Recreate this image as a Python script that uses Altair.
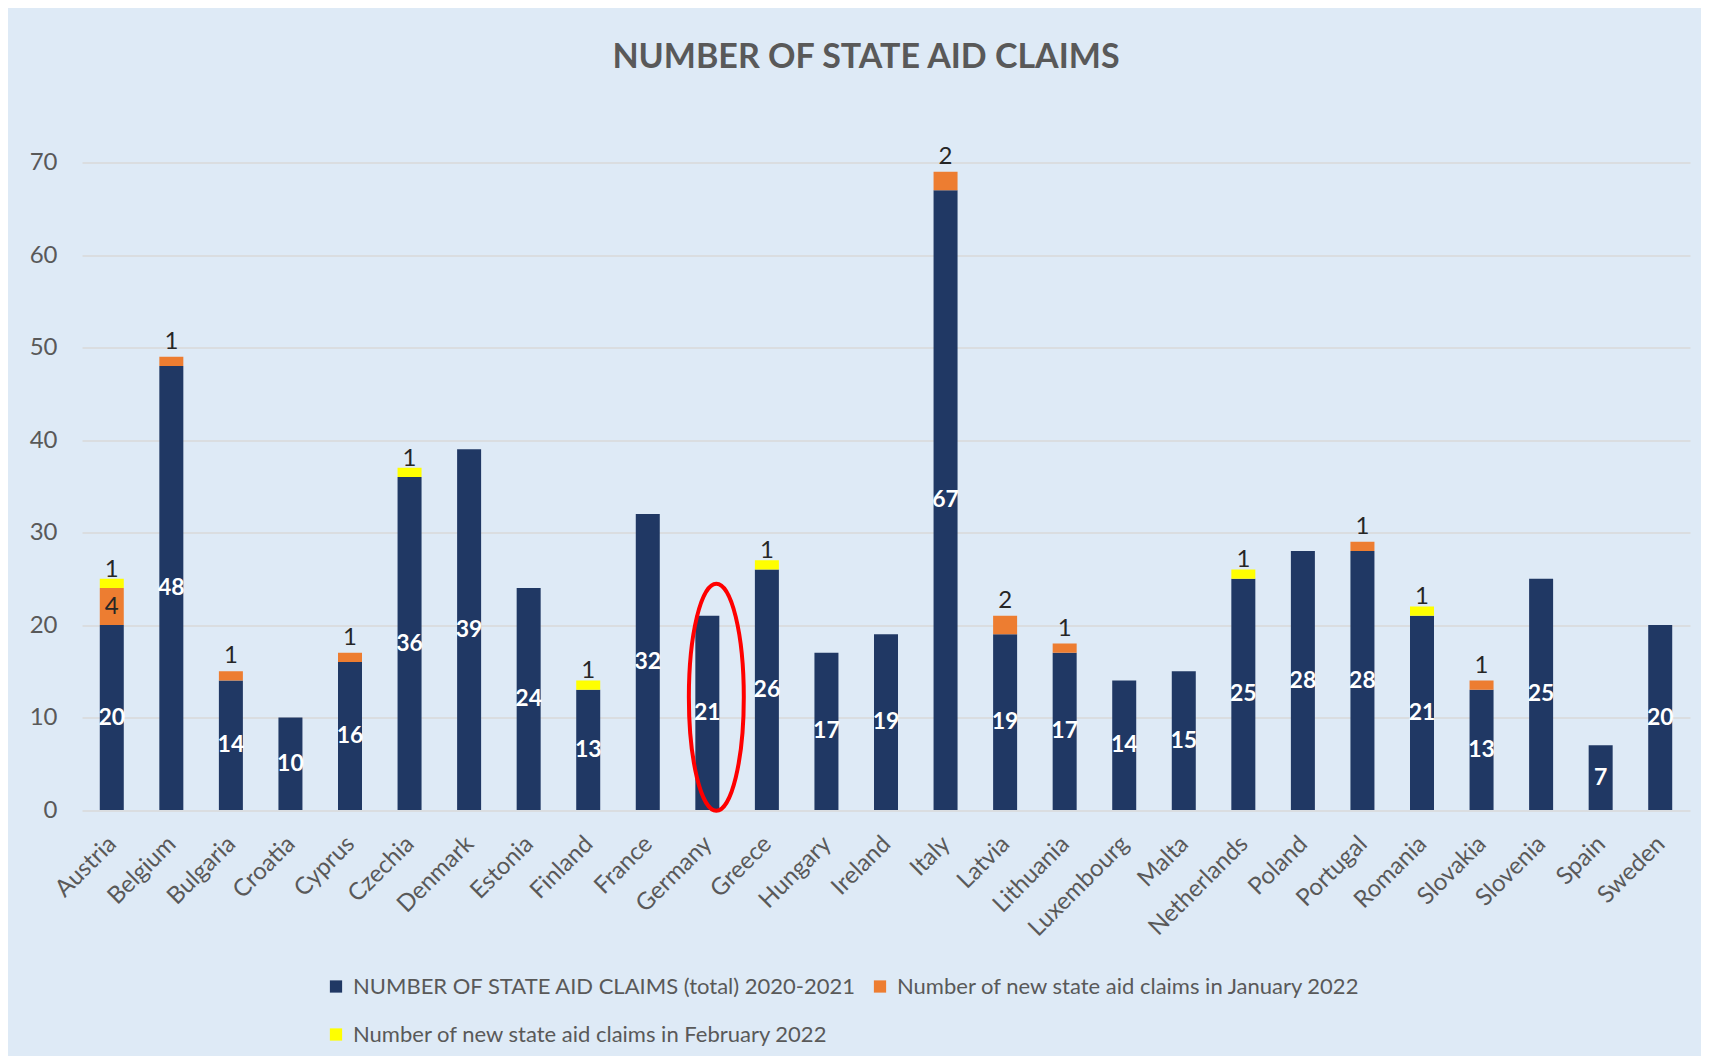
import altair as alt
import pandas as pd

countries = ["Austria", "Belgium", "Bulgaria", "Croatia", "Cyprus", "Czechia", "Denmark",
             "Estonia", "Finland", "France", "Germany", "Greece", "Hungary", "Ireland",
             "Italy", "Latvia", "Lithuania", "Luxembourg", "Malta", "Netherlands", "Poland",
             "Portugal", "Romania", "Slovakia", "Slovenia", "Spain", "Sweden"]
total_2020_2021 = [20, 48, 14, 10, 16, 36, 39, 24, 13, 32, 21, 26, 17, 19, 67, 19, 17, 14,
                   15, 25, 28, 28, 21, 13, 25, 7, 20]
jan_2022 = [4, 1, 1, 0, 1, 0, 0, 0, 0, 0, 0, 0, 0, 0, 2, 2, 1, 0, 0, 0, 0, 1, 0, 1, 0, 0, 0]
feb_2022 = [1, 0, 0, 0, 0, 1, 0, 0, 1, 0, 0, 1, 0, 0, 0, 0, 0, 0, 0, 1, 0, 0, 1, 0, 0, 0, 0]

series_names = ["NUMBER OF STATE AID CLAIMS (total) 2020-2021",
                "Number of new state aid claims in January 2022",
                "Number of new state aid claims in February 2022"]
series_colors = ["#203864", "#ED7D31", "#FFFF00"]
y_ticks = [0, 10, 20, 30, 40, 50, 60, 70]

highlight_country = ["Germany"]
highlight_center = [12.2]

rows = []
for i, c in enumerate(countries):
    for k, vals in enumerate([total_2020_2021, jan_2022, feb_2022]):
        if vals[i] > 0:
            rows.append({"country": c, "series": series_names[k], "idx": k, "value": vals[i]})
df = pd.DataFrame(rows)

FONT = "Lato"
GRAY = "#595959"

x_enc = alt.X("country:N", sort=countries,
              scale=alt.Scale(paddingInner=0, paddingOuter=0),
              axis=alt.Axis(title=None, labelAngle=-45, labelAlign="right",
                            labelBaseline="middle", labelFontSize=24, labelFont=FONT,
                            labelColor=GRAY, labelPadding=30, domain=False, ticks=False,
                            labelOffset=1))
y_scale = alt.Scale(domain=[0, 70], nice=False)

base = alt.Chart(df).transform_stack(
    stack="value", groupby=["country"], sort=[alt.SortField("idx", order="ascending")],
    as_=["v0", "v1"]
).transform_calculate(
    lab="datum.idx == 0 ? (datum.v0 + datum.v1) / 2 : (datum.value >= 3 ? (datum.v0 + datum.v1) / 2 : datum.v1 + (datum.idx == 1 ? 1.6 : 1.0))"
)

bars = base.mark_bar(size=24).encode(
    x=x_enc,
    y=alt.Y("v0:Q", scale=y_scale,
            axis=alt.Axis(title=None, values=y_ticks, grid=True, gridColor="#D9D9D9",
                          gridWidth=1.5, domain=False, ticks=False, labelFontSize=24,
                          labelFont=FONT, labelColor=GRAY, labelPadding=25)),
    y2="v1:Q",
    color=alt.Color("series:N",
                    scale=alt.Scale(domain=series_names, range=series_colors),
                    legend=alt.Legend(title=None, orient="none", legendX=243, legendY=813,
                                      direction="horizontal", columns=2,
                                      symbolType="square", symbolSize=150,
                                      symbolStrokeWidth=0, labelFont=FONT,
                                      labelFontSize=22, labelColor=GRAY, labelLimit=0,
                                      columnPadding=12, rowPadding=26, labelOffset=6)),
    order=alt.Order("idx:Q"),
)

inner_labels = base.transform_filter("datum.idx == 0").mark_text(
    color="white", fontWeight="bold", fontSize=23, font=FONT, baseline="middle"
).encode(x=alt.X("country:N", sort=countries), y=alt.Y("lab:Q", scale=y_scale), text="value:Q")

top_labels = base.transform_filter("datum.idx > 0").mark_text(
    color="#262626", fontSize=24, font=FONT, baseline="middle"
).encode(x=alt.X("country:N", sort=countries), y=alt.Y("lab:Q", scale=y_scale), text="value:Q")

ellipse_path = ("M 0 -1 C 0.1337 -1 0.242 -0.5523 0.242 0 C 0.242 0.5523 0.1337 1 0 1 "
                "C -0.1337 1 -0.242 0.5523 -0.242 0 C -0.242 -0.5523 -0.1337 -1 0 -1 Z")
hl = alt.Chart(pd.DataFrame({"country": highlight_country, "center": highlight_center})).mark_point(
    shape=ellipse_path, size=51529, filled=False, stroke="#FF0000", strokeWidth=4,
    xOffset=9, opacity=1
).encode(x=alt.X("country:N", sort=countries), y=alt.Y("center:Q", scale=y_scale))

chart = alt.layer(bars, inner_labels, top_labels, hl).properties(
    width=1608, height=647.5,
    title=alt.TitleParams("NUMBER OF STATE AID CLAIMS", fontSize=34, font=FONT,
                          fontWeight="bold", color=GRAY, anchor="middle", dx=-20,
                          offset=43, baseline="alphabetic"),
    autosize=alt.AutoSizeParams(type="none"),
    padding={"left": 74, "top": 154.5, "right": 11, "bottom": 246},
    background="#DEEAF6",
).configure_view(stroke=None)

chart.save("out.html", embed_options={"renderer": "svg", "actions": False})
